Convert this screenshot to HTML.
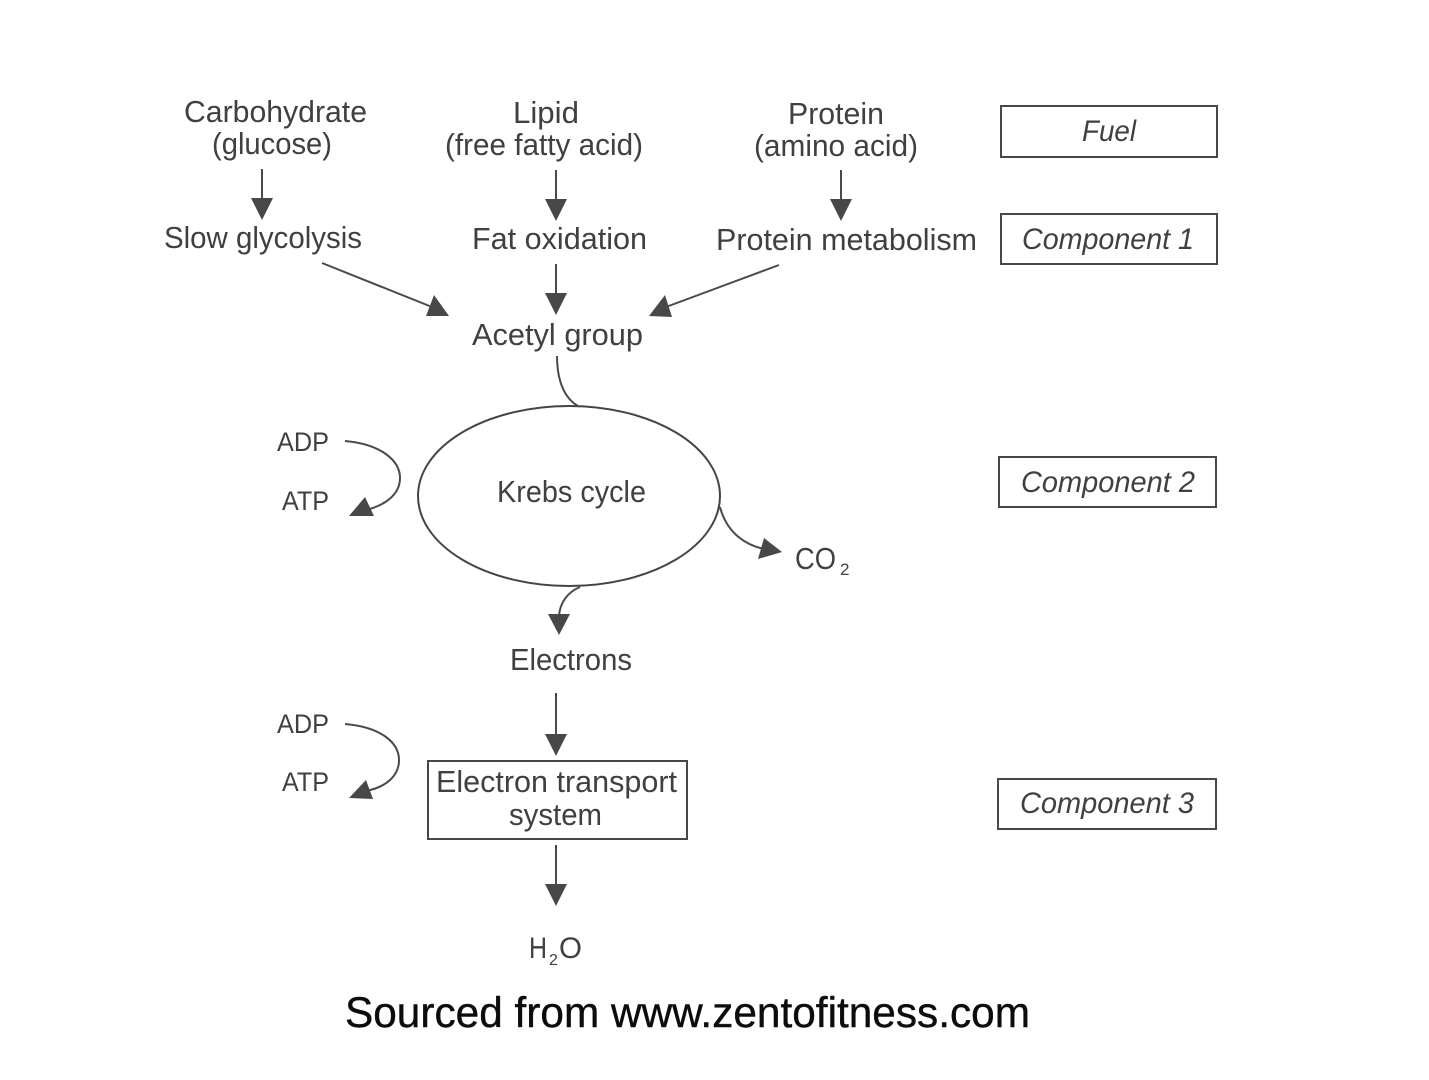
<!DOCTYPE html>
<html><head><meta charset="utf-8"><style>
html,body{margin:0;padding:0;background:#fff}
svg{display:block}
text{font-family:"Liberation Sans",sans-serif;font-size:31px;fill:#404040;stroke:none}
.i{font-style:italic;font-size:30px}
.s{font-size:27px}
.l{fill:none;stroke:#4a4a4a;stroke-width:2}
.a{fill:#484848;stroke:none}
.b{fill:none;stroke:#484848;stroke-width:2}
</style></head><body>
<svg width="1429" height="1080" viewBox="0 0 1429 1080" xmlns="http://www.w3.org/2000/svg">
<rect width="1429" height="1080" fill="#fff"/>

<text x="184" y="122" textLength="183" lengthAdjust="spacingAndGlyphs">Carbohydrate</text>
<text x="212" y="154" textLength="120" lengthAdjust="spacingAndGlyphs">(glucose)</text>
<text x="513" y="123" textLength="66" lengthAdjust="spacingAndGlyphs">Lipid</text>
<text x="445" y="155" textLength="198" lengthAdjust="spacingAndGlyphs">(free fatty acid)</text>
<text x="788" y="124" textLength="96" lengthAdjust="spacingAndGlyphs">Protein</text>
<text x="754" y="156" textLength="164" lengthAdjust="spacingAndGlyphs">(amino acid)</text>
<text x="164" y="248" textLength="198" lengthAdjust="spacingAndGlyphs">Slow glycolysis</text>
<text x="472" y="249" textLength="175" lengthAdjust="spacingAndGlyphs">Fat oxidation</text>
<text x="716" y="250" textLength="261" lengthAdjust="spacingAndGlyphs">Protein metabolism</text>
<text x="472" y="345" textLength="171" lengthAdjust="spacingAndGlyphs">Acetyl group</text>
<text x="497" y="502" textLength="149" lengthAdjust="spacingAndGlyphs">Krebs cycle</text>
<text x="510" y="670" textLength="122" lengthAdjust="spacingAndGlyphs">Electrons</text>

<text class="s" x="277" y="451" textLength="52" lengthAdjust="spacingAndGlyphs">ADP</text>
<text class="s" x="282" y="510" textLength="47" lengthAdjust="spacingAndGlyphs">ATP</text>
<text class="s" x="277" y="733" textLength="52" lengthAdjust="spacingAndGlyphs">ADP</text>
<text class="s" x="282" y="791" textLength="47" lengthAdjust="spacingAndGlyphs">ATP</text>
<text x="795" y="569" textLength="41" lengthAdjust="spacingAndGlyphs">CO</text>
<text x="840" y="575" style="font-size:17px">2</text>
<text x="529" y="958" textLength="18" lengthAdjust="spacingAndGlyphs" style="font-size:30px">H</text>
<text x="549" y="965" style="font-size:16px">2</text>
<text x="559" y="958" textLength="23" lengthAdjust="spacingAndGlyphs" style="font-size:30px">O</text>

<rect class="b" x="1001" y="106" width="216" height="51"/>
<rect class="b" x="1001" y="214" width="216" height="50"/>
<rect class="b" x="999" y="457" width="217" height="50"/>
<rect class="b" x="998" y="779" width="218" height="50"/>
<text class="i" x="1082" y="141" textLength="54" lengthAdjust="spacingAndGlyphs">Fuel</text>
<text class="i" x="1022" y="249" textLength="172" lengthAdjust="spacingAndGlyphs">Component 1</text>
<text class="i" x="1021" y="492" textLength="174" lengthAdjust="spacingAndGlyphs">Component 2</text>
<text class="i" x="1020" y="813" textLength="174" lengthAdjust="spacingAndGlyphs">Component 3</text>

<rect class="b" x="428" y="761" width="259" height="78"/>
<text x="436" y="792" textLength="241" lengthAdjust="spacingAndGlyphs">Electron transport</text>
<text x="509" y="825" textLength="93" lengthAdjust="spacingAndGlyphs">system</text>

<line class="l" x1="262" y1="169" x2="262" y2="200"/>
<polygon class="a" points="251,198 273,198 262,220"/>
<line class="l" x1="556" y1="170" x2="556" y2="200"/>
<polygon class="a" points="545,199 567,199 556,221"/>
<line class="l" x1="841" y1="170" x2="841" y2="200"/>
<polygon class="a" points="830,199 852,199 841,221"/>
<line class="l" x1="556" y1="264" x2="556" y2="296"/>
<polygon class="a" points="545,293 567,293 556,315"/>
<line class="l" x1="322" y1="263" x2="432" y2="307"/>
<polygon class="a" points="449,316 426,316 434,295"/>
<line class="l" x1="779" y1="265" x2="666" y2="307"/>
<polygon class="a" points="649,316 672,317 665,295"/>

<ellipse cx="569" cy="496" rx="151" ry="90" fill="none" stroke="#444" stroke-width="2"/>
<path class="l" d="M557 356 C557 380 564 398 578 406"/>
<path class="l" d="M720 507 C726 530 742 544 764 549"/>
<polygon class="a" points="782,552 764,538 758,559"/>
<path class="l" d="M580 587 C568 592 560 602 559 616"/>
<polygon class="a" points="548,614 570,614 559,635"/>
<path class="l" d="M345 441 C380 444 400 460 400 478 C400 494 386 505 366 510"/>
<polygon class="a" points="349,516 365,497 374,516"/>
<path class="l" d="M345 724 C380 727 399 742 399 760 C399 776 386 787 366 791"/>
<polygon class="a" points="349,798 366,780 373,799"/>
<line class="l" x1="556" y1="693" x2="556" y2="736"/>
<polygon class="a" points="545,734 567,734 556,756"/>
<line class="l" x1="556" y1="845" x2="556" y2="887"/>
<polygon class="a" points="545,884 567,884 556,906"/>

<text x="345" y="1027" textLength="685" lengthAdjust="spacingAndGlyphs" style="font-size:43px;fill:#0c0c0c;stroke:#0c0c0c;stroke-width:.4">Sourced from www.zentofitness.com</text>
</svg>
</body></html>
